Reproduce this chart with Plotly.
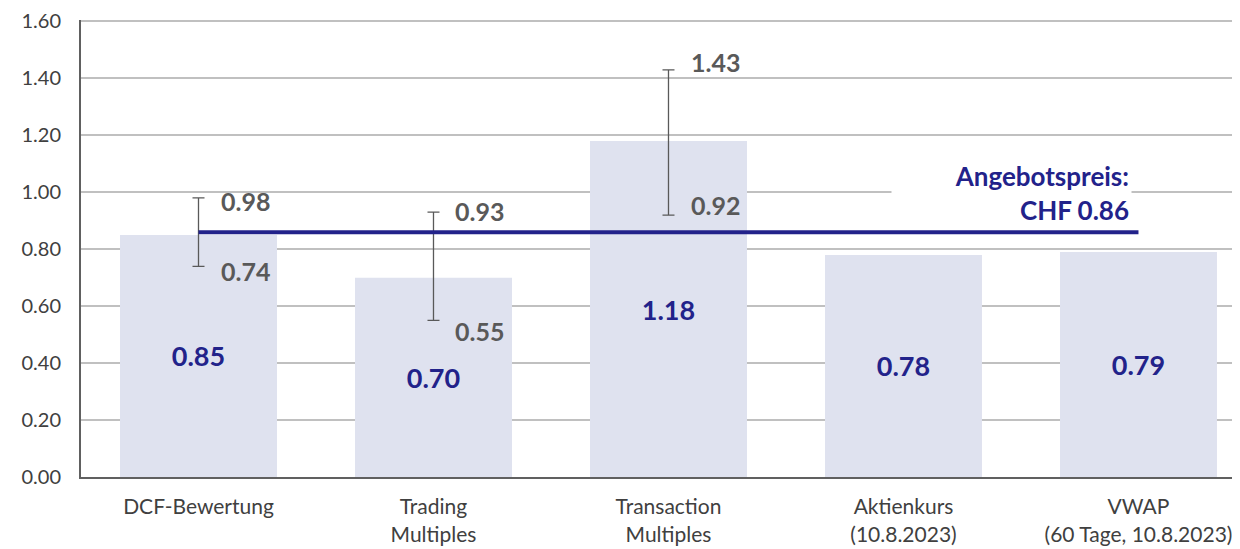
import plotly.graph_objects as go

categories = ["DCF-Bewertung", "Trading<br>Multiples", "Transaction<br>Multiples",
              "Aktienkurs<br>(10.8.2023)", "VWAP<br>(60 Tage, 10.8.2023)"]
values = [0.85, 0.70, 1.18, 0.78, 0.79]
range_cats = categories[:3]
range_mid = [0.85, 0.70, 1.18]
range_low = [0.74, 0.55, 0.92]
range_high = [0.98, 0.93, 1.43]
offer_price = 0.86
offer_label = "Angebotspreis:<br>CHF 0.86"
y_ticks = [0.0, 0.2, 0.4, 0.6, 0.8, 1.0, 1.2, 1.4, 1.6]

NAVY = "#22228a"
GREY_TXT = "#595959"
BAR = "#dfe2ef"
FONT = "Lato"

plus = [h - m for h, m in zip(range_high, range_mid)]
minus = [m - l for l, m in zip(range_low, range_mid)]

fig = go.Figure()
fig.add_trace(go.Bar(
    x=categories, y=values, width=0.668, marker=dict(color=BAR, line=dict(width=0)),
    text=[f"<b>{v:.2f}</b>" for v in values], textposition="inside",
    insidetextanchor="middle", textangle=0,
    textfont=dict(family=FONT, size=27, color=NAVY),
    hoverinfo="skip", showlegend=False,
))
fig.add_trace(go.Scatter(
    x=range_cats, y=range_mid, mode="markers", marker=dict(size=1, opacity=0),
    error_y=dict(type="data", symmetric=False, array=plus, arrayminus=minus,
                 color=GREY_TXT, thickness=1.3, width=6),
    hoverinfo="skip", showlegend=False,
))
fig.add_trace(go.Scatter(
    x=categories, y=[offer_price] * len(categories), mode="lines",
    line=dict(color=NAVY, width=4), hoverinfo="skip", showlegend=False,
))

# range labels
hi_shift = [-3, 1, 8]
lo_shift = [-5, -11, 10]
xshifts = [20, 20, 21]
for i in range(len(range_cats)):
    for val, ys in ((range_high[i], hi_shift[i]), (range_low[i], lo_shift[i])):
        fig.add_annotation(x=i, y=val, text=f"<b>{val:.2f}</b>", showarrow=False,
                           xanchor="left", yanchor="middle", xshift=xshifts[i], yshift=ys,
                           font=dict(family=FONT, size=25, color=GREY_TXT))

fig.add_annotation(x=4, y=offer_price, text=f"<b>{offer_label}</b>", showarrow=False,
                   xanchor="right", yanchor="bottom", xshift=-6, yshift=3,
                   align="right", width=235, bgcolor="white", borderpad=2,
                   font=dict(family=FONT, size=26, color=NAVY))

fig.update_layout(
    width=1232, height=541,
    margin=dict(l=73, r=0, t=12, b=72),
    plot_bgcolor="white", paper_bgcolor="white",
    font=dict(family=FONT, size=20, color="#404040"),
)
fig.update_xaxes(
    type="category", range=[-0.5, 4.432], showgrid=False,
    showline=True, linecolor="#606060", linewidth=2,
    tickfont=dict(family=FONT, size=21, color="#404040"),
    ticks="", ticklabelstandoff=10, fixedrange=True, automargin=False,
)
fig.update_yaxes(
    range=[0, 1.605], tickvals=y_ticks, ticktext=[f"{t:.2f}" for t in y_ticks],
    showgrid=True, gridcolor="#c0c0c0", gridwidth=1.5,
    showline=True, linecolor="#606060", linewidth=2, zeroline=False,
    tickfont=dict(family=FONT, size=20, color="#404040"),
    ticks="", ticklabelstandoff=14, fixedrange=True, automargin=False,
    ticklabeloverflow="allow",
)

fig.write_html("out.html")
